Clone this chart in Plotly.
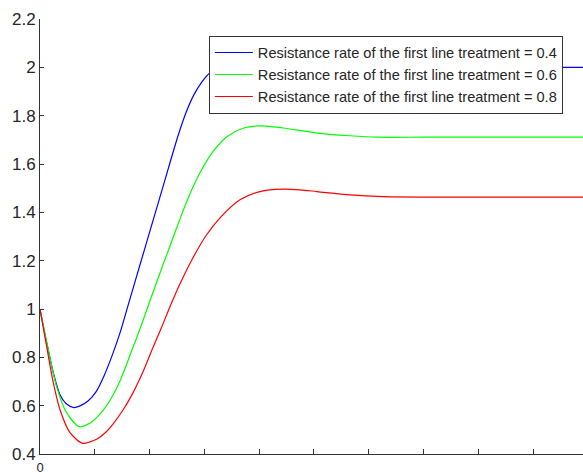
import plotly.graph_objects as go

# values
x_blue = [0, 1.22, 2.43, 3.65, 4.74, 6.20, 7.30, 8.76, 10.22, 11.68, 13.14, 14.60, 16.42, 18.25, 20.07,
          21.90, 23.72, 25.18, 26.64, 28.10, 29.56, 31.02, 32.85, 35.6, 39.2, 44.7, 51.1, 60.2, 70, 80, 90, 100]
y_blue = [1.0, 0.860, 0.736, 0.645, 0.609, 0.592, 0.599, 0.619, 0.657, 0.723, 0.806, 0.901, 1.042, 1.183,
          1.323, 1.464, 1.605, 1.716, 1.812, 1.887, 1.940, 1.978, 1.998, 2.02, 2.03, 2.025, 2.01, 2.002,
          2.0, 2.0, 2.0, 2.0]

x_green = [0, 1.51, 3.05, 4.87, 7.17, 9.12, 11.55, 13.14, 14.60, 16.73, 18.25, 20.07, 21.90, 23.72, 25.55,
           27.37, 29.20, 31.57, 34.12, 37.04, 40.51, 44.34, 50.55, 56.57, 61.50, 70, 80, 90, 100]
y_green = [1.0, 0.832, 0.678, 0.570, 0.513, 0.528, 0.582, 0.636, 0.702, 0.827, 0.918, 1.034, 1.149, 1.261,
           1.373, 1.477, 1.564, 1.651, 1.713, 1.748, 1.758, 1.749, 1.728, 1.717, 1.711, 1.711, 1.711, 1.711,
           1.711]

x_red = [0, 1.22, 2.43, 3.65, 5.47, 7.79, 9.12, 10.40, 11.86, 13.32, 15.15, 16.97, 18.80, 20.44, 22.08,
         23.72, 25.55, 27.92, 30.29, 32.85, 36.50, 40.15, 44.34, 47.45, 50.55, 56.57, 62.59, 74.8, 85, 100]
y_red = [1.0, 0.844, 0.695, 0.583, 0.488, 0.444, 0.450, 0.462, 0.487, 0.524, 0.582, 0.653, 0.740, 0.831,
         0.918, 1.009, 1.104, 1.212, 1.303, 1.377, 1.452, 1.486, 1.496, 1.493, 1.486, 1.472, 1.465, 1.463,
         1.463, 1.463]

names = ["Resistance rate of the first line treatment = 0.4",
         "Resistance rate of the first line treatment = 0.6",
         "Resistance rate of the first line treatment = 0.8"]
colors = ["#0000ff", "#00ff00", "#ff0000"]

y_ticks = [0.4, 0.6, 0.8, 1.0, 1.2, 1.4, 1.6, 1.8, 2.0, 2.2]
y_ticktext = ["0.4", "0.6", "0.8", "1", "1.2", "1.4", "1.6", "1.8", "2", "2.2"]
x_ticks = [0, 10, 20, 30, 40, 50, 60, 70, 80, 90, 100]
x_ticktext = ["0", "", "", "", "", "", "", "", "", "", ""]

fig = go.Figure()
for xs, ys, nm, c in zip([x_blue, x_green, x_red], [y_blue, y_green, y_red], names, colors):
    fig.add_trace(go.Scatter(x=xs, y=ys, mode="lines", name=nm,
                             line=dict(color=c, width=1.2, shape="spline", smoothing=0.8)))

axis_color = "#333333"
fig.update_layout(
    width=583, height=476,
    margin=dict(l=40, r=0, t=19, b=22),
    paper_bgcolor="white", plot_bgcolor="white",
    font=dict(family="Liberation Sans, Arial, sans-serif", size=17, color="#262626"),
    showlegend=True,
    legend=dict(x=0.311, y=0.962, xanchor="left", yanchor="top",
                bgcolor="white", bordercolor=axis_color, borderwidth=1,
                font=dict(size=14.6, color="#262626"),
                tracegroupgap=0, itemwidth=38),
    xaxis=dict(range=[0, 99.1], tickmode="array", tickvals=x_ticks, ticktext=x_ticktext,
               ticks="inside", ticklen=5, tickcolor=axis_color, showline=True,
               linecolor=axis_color, linewidth=1, showgrid=False, zeroline=False,
               tickfont=dict(size=13), ticklabelstandoff=1, automargin=False),
    yaxis=dict(range=[0.4, 2.2], tickmode="array", tickvals=y_ticks, ticktext=y_ticktext,
               ticks="inside", ticklen=4, tickcolor=axis_color, showline=True,
               linecolor=axis_color, linewidth=1, showgrid=False, zeroline=False,
               tickfont=dict(size=17), automargin=False),
)

fig.write_html("out.html")
